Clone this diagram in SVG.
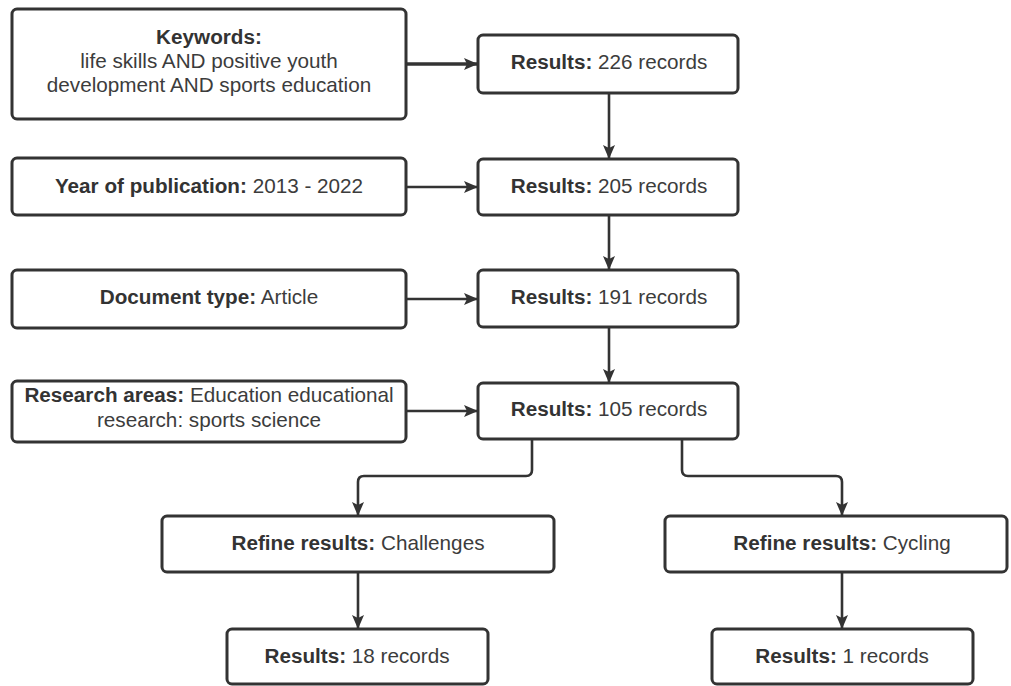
<svg xmlns="http://www.w3.org/2000/svg" width="1011" height="686" viewBox="0 0 1011 686">
<style>
.box{fill:#fff;stroke:#333;stroke-width:3}
.t{font-family:"Liberation Sans",Arial,sans-serif;font-size:20.7px;fill:#3c3c3c;text-anchor:middle}
.b{font-weight:bold;fill:#333}
.c{fill:none;stroke:#333;stroke-width:2.6}
</style>
<defs>
<marker id="ah" viewBox="0 0 14 12" refX="14" refY="6" markerWidth="14" markerHeight="12" markerUnits="userSpaceOnUse" orient="auto">
<path d="M0,0 L14,6 L0,12 L3,6 Z" fill="#333"/>
</marker>
</defs>
<rect width="1011" height="686" fill="#fff"/>
<g id="connectors">
<path class="c" style="stroke-width:3.4" d="M406 64 H478" marker-end="url(#ah)"/>
<path class="c" d="M406 187 H478" marker-end="url(#ah)"/>
<path class="c" d="M406 299 H478" marker-end="url(#ah)"/>
<path class="c" d="M406 411 H478" marker-end="url(#ah)"/>
<path class="c" d="M609 93 V159" marker-end="url(#ah)"/>
<path class="c" d="M609 215 V270" marker-end="url(#ah)"/>
<path class="c" d="M609 327 V383" marker-end="url(#ah)"/>
<path class="c" d="M532 439 V470 Q532 476 526 476 H364 Q358 476 358 482 V516" marker-end="url(#ah)"/>
<path class="c" d="M682 439 V470 Q682 476 688 476 H836 Q842 476 842 482 V516" marker-end="url(#ah)"/>
<path class="c" d="M358 572 V629" marker-end="url(#ah)"/>
<path class="c" d="M842 572 V629" marker-end="url(#ah)"/>
</g>
<g id="keywords">
<rect class="box" x="12" y="9" width="394" height="110" rx="5"/>
<text class="t" x="209" y="44"><tspan class="b">Keywords:</tspan></text>
<text class="t" x="209" y="68">life skills AND positive youth</text>
<text class="t" x="209" y="92">development AND sports education</text>
</g>
<g id="year">
<rect class="box" x="12" y="158" width="394" height="57" rx="5"/>
<text class="t" x="209" y="193"><tspan class="b">Year of publication:</tspan> 2013 - 2022</text>
</g>
<g id="doctype">
<rect class="box" x="12" y="270" width="394" height="58" rx="5"/>
<text class="t" x="209" y="304"><tspan class="b">Document type:</tspan> Article</text>
</g>
<g id="research">
<rect class="box" x="12" y="381" width="394" height="61" rx="5"/>
<text class="t" x="209" y="402"><tspan class="b">Research areas:</tspan> Education educational</text>
<text class="t" x="209" y="427">research: sports science</text>
</g>
<g id="r226">
<rect class="box" x="478" y="35" width="260" height="58" rx="5"/>
<text class="t" x="609" y="69"><tspan class="b">Results:</tspan> 226 records</text>
</g>
<g id="r205">
<rect class="box" x="478" y="159" width="260" height="56" rx="5"/>
<text class="t" x="609" y="193"><tspan class="b">Results:</tspan> 205 records</text>
</g>
<g id="r191">
<rect class="box" x="478" y="270" width="260" height="57" rx="5"/>
<text class="t" x="609" y="304"><tspan class="b">Results:</tspan> 191 records</text>
</g>
<g id="r105">
<rect class="box" x="478" y="383" width="260" height="56" rx="5"/>
<text class="t" x="609" y="416"><tspan class="b">Results:</tspan> 105 records</text>
</g>
<g id="refineChallenges">
<rect class="box" x="162" y="516" width="392" height="56" rx="5"/>
<text class="t" x="358" y="550"><tspan class="b">Refine results:</tspan> Challenges</text>
</g>
<g id="refineCycling">
<rect class="box" x="665" y="516" width="342" height="56" rx="5"/>
<text class="t" x="842" y="550"><tspan class="b">Refine results:</tspan> Cycling</text>
</g>
<g id="r18">
<rect class="box" x="227" y="629" width="261" height="55" rx="5"/>
<text class="t" x="357" y="663"><tspan class="b">Results:</tspan> 18 records</text>
</g>
<g id="r1">
<rect class="box" x="712" y="629" width="261" height="55" rx="5"/>
<text class="t" x="842" y="663"><tspan class="b">Results:</tspan> 1 records</text>
</g>
</svg>
